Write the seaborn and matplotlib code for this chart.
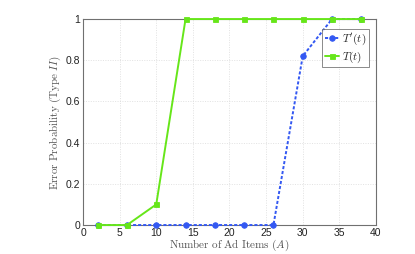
import matplotlib
matplotlib.use("Agg")
import matplotlib.pyplot as plt
import seaborn as sns
import pandas as pd

# values
ad_items = [2, 6, 10, 14, 18, 22, 26, 30, 34, 38]
err_t_prime = [0, 0, 0, 0, 0, 0, 0, 0.82, 1, 1]
err_t = [0, 0, 0.1, 1, 1, 1, 1, 1, 1, 1]
x_ticks = [0, 5, 10, 15, 20, 25, 30, 35, 40]
y_ticks = [0, 0.2, 0.4, 0.6, 0.8, 1]
y_tick_labels = ["0", "0.2", "0.4", "0.6", "0.8", "1"]

df = pd.DataFrame({"A": ad_items, "tp": err_t_prime, "t": err_t})

sns.set_style("white")
plt.rcParams["mathtext.fontset"] = "cm"
plt.rcParams["font.family"] = ["Liberation Sans", "DejaVu Sans"]

fig = plt.figure(figsize=(4.15, 2.54), dpi=100)
ax = fig.add_axes([0.2, 0.114, 0.706, 0.811])

blue = "#3358f2"
green = "#66e619"
sns.lineplot(data=df, x="A", y="tp", ax=ax, color=blue, linestyle=(0, (1.6, 1.0)),
             linewidth=1.4, marker="o", markersize=4, markeredgewidth=0.6,
             markeredgecolor=blue, label="$T'(t)$", clip_on=False, zorder=3)
sns.lineplot(data=df, x="A", y="t", ax=ax, color=green, linestyle="-",
             linewidth=1.4, marker="s", markersize=3.6, markeredgewidth=0.6,
             markeredgecolor=green, label="$T(t)$", clip_on=False, zorder=4)

ax.set_xlim(0, 40)
ax.set_ylim(0, 1)
ax.set_xticks(x_ticks)
ax.set_yticks(y_ticks)
ax.set_yticklabels(y_tick_labels)
ax.tick_params(direction="in", length=3, labelsize=7.5, colors="#222222", pad=2)
ax.grid(True, linestyle=(0, (1.5, 2)), color="#d8d8d8", linewidth=0.5)
for s in ax.spines.values():
    s.set_color("#707070")
    s.set_linewidth(0.8)

ax.set_xlabel(r"$\mathrm{Number\ of\ Ad\ Items\ (}A\mathrm{)}$", fontsize=8,
              color="#555555", labelpad=0)
ax.set_ylabel(r"$\mathrm{Error\ Probability\ (Type\ }II\mathrm{)}$", fontsize=8,
              color="#555555", labelpad=2)

leg = ax.legend(loc="upper right", bbox_to_anchor=(0.976, 0.951), fontsize=8,
                frameon=True, fancybox=False, handlelength=1.2, handletextpad=0.3,
                borderpad=0.25, labelspacing=0.2, borderaxespad=0)
leg.get_frame().set_edgecolor("#555555")
leg.get_frame().set_linewidth(0.6)

fig.savefig("out.png", dpi=100)
